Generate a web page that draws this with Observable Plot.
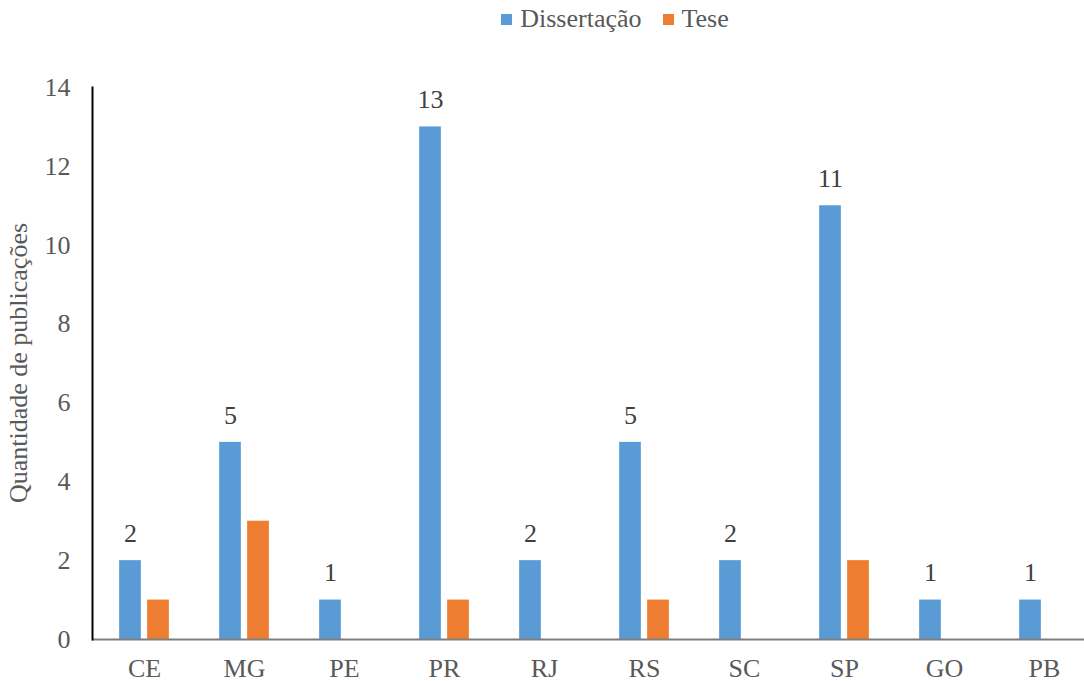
<!DOCTYPE html>
<html>
<head>
<meta charset="utf-8">
<script src="https://cdn.jsdelivr.net/npm/d3@7"></script>
<script src="https://cdn.jsdelivr.net/npm/@observablehq/plot@0.6"></script>
<style>
  body { margin: 0; background: #fff; }
  #wrap { position: relative; width: 1084px; height: 681px; font-family: 'Liberation Serif'; }
  #legend { position: absolute; top: 4px; left: 0; width: 1084px; display: flex; justify-content: center; gap: 21px; font-family: 'Liberation Serif'; font-size: 26px; color: #595959; padding-left: 146px; box-sizing: border-box; }
  #legend span.item { display: flex; align-items: center; }
  #legend span.sw { display: inline-block; width: 11px; height: 11px; margin-right: 8px; }
  #chart svg text { font-family: 'Liberation Serif' !important; }
</style>
</head>
<body>
<div id="wrap">
  <div id="legend"></div>
  <div id="chart"></div>
</div>
<script>
const categories = ["CE", "MG", "PE", "PR", "RJ", "RS", "SC", "SP", "GO", "PB"];
const dissertacao = [2, 5, 1, 13, 2, 5, 2, 11, 1, 1];
const tese = [1, 3, 0, 1, 0, 1, 0, 2, 0, 0];
const seriesNames = ["Dissertação", "Tese"];
const seriesColors = ["#5B9BD5", "#ED7D31"];
const yTicks = [0, 2, 4, 6, 8, 10, 12, 14];

const dRows = categories.map((c, i) => ({cat: c, v: dissertacao[i]}));
const tRows = categories.map((c, i) => ({cat: c, v: tese[i]})).filter(d => d.v > 0);

const legend = document.getElementById("legend");
seriesNames.forEach((n, i) => {
  const it = document.createElement("span");
  it.className = "item";
  it.innerHTML = `<span class="sw" style="background:${seriesColors[i]}"></span>${n}`;
  legend.appendChild(it);
});

const FF = "Liberation Serif";
const inset = 39.15;
const plot = Plot.plot({
  width: 1084,
  height: 681,
  marginTop: 87,
  marginBottom: 42,
  marginLeft: 92,
  marginRight: 0,
  style: {fontFamily: FF, fontSize: "26px", color: "#595959", overflow: "visible"},
  x: {domain: categories, range: [92, 1095], padding: 0, label: null},
  y: {domain: [0, 14], label: null},
  marks: [
    Plot.barY(dRows, {x: "cat", y: "v", fill: seriesColors[0], dx: -14, insetLeft: inset, insetRight: inset}),
    Plot.barY(tRows, {x: "cat", y: "v", fill: seriesColors[1], dx: 14, insetLeft: inset, insetRight: inset}),
    Plot.text(dRows, {x: "cat", y: "v", text: d => String(d.v), dx: -14, dy: -27, fill: "#404040", fontSize: 26, fontFamily: FF}),
    Plot.ruleY([0], {stroke: "#7f7f7f", strokeWidth: 2}),
    Plot.axisY({ticks: yTicks, tickSize: 0, tickPadding: 22, fontSize: 26, fontFamily: FF, fill: "#595959", label: null}),
    Plot.axisX({tickSize: 0, tickPadding: 19, fontSize: 26, fontFamily: FF, fill: "#595959", label: null}),
    Plot.frame({anchor: "left", stroke: "black", strokeWidth: 2})
  ]
});
document.getElementById("chart").appendChild(plot);

// y-axis title
const svg = d3.select(plot);
svg.append("text")
  .attr("transform", "translate(21,363) rotate(-90)")
  .attr("text-anchor", "middle")
  .attr("dominant-baseline", "middle")
  .attr("fill", "#595959")
  .attr("font-size", 26)
  .attr("font-family", FF)
  .text("Quantidade de publicações");
</script>
</body>
</html>
